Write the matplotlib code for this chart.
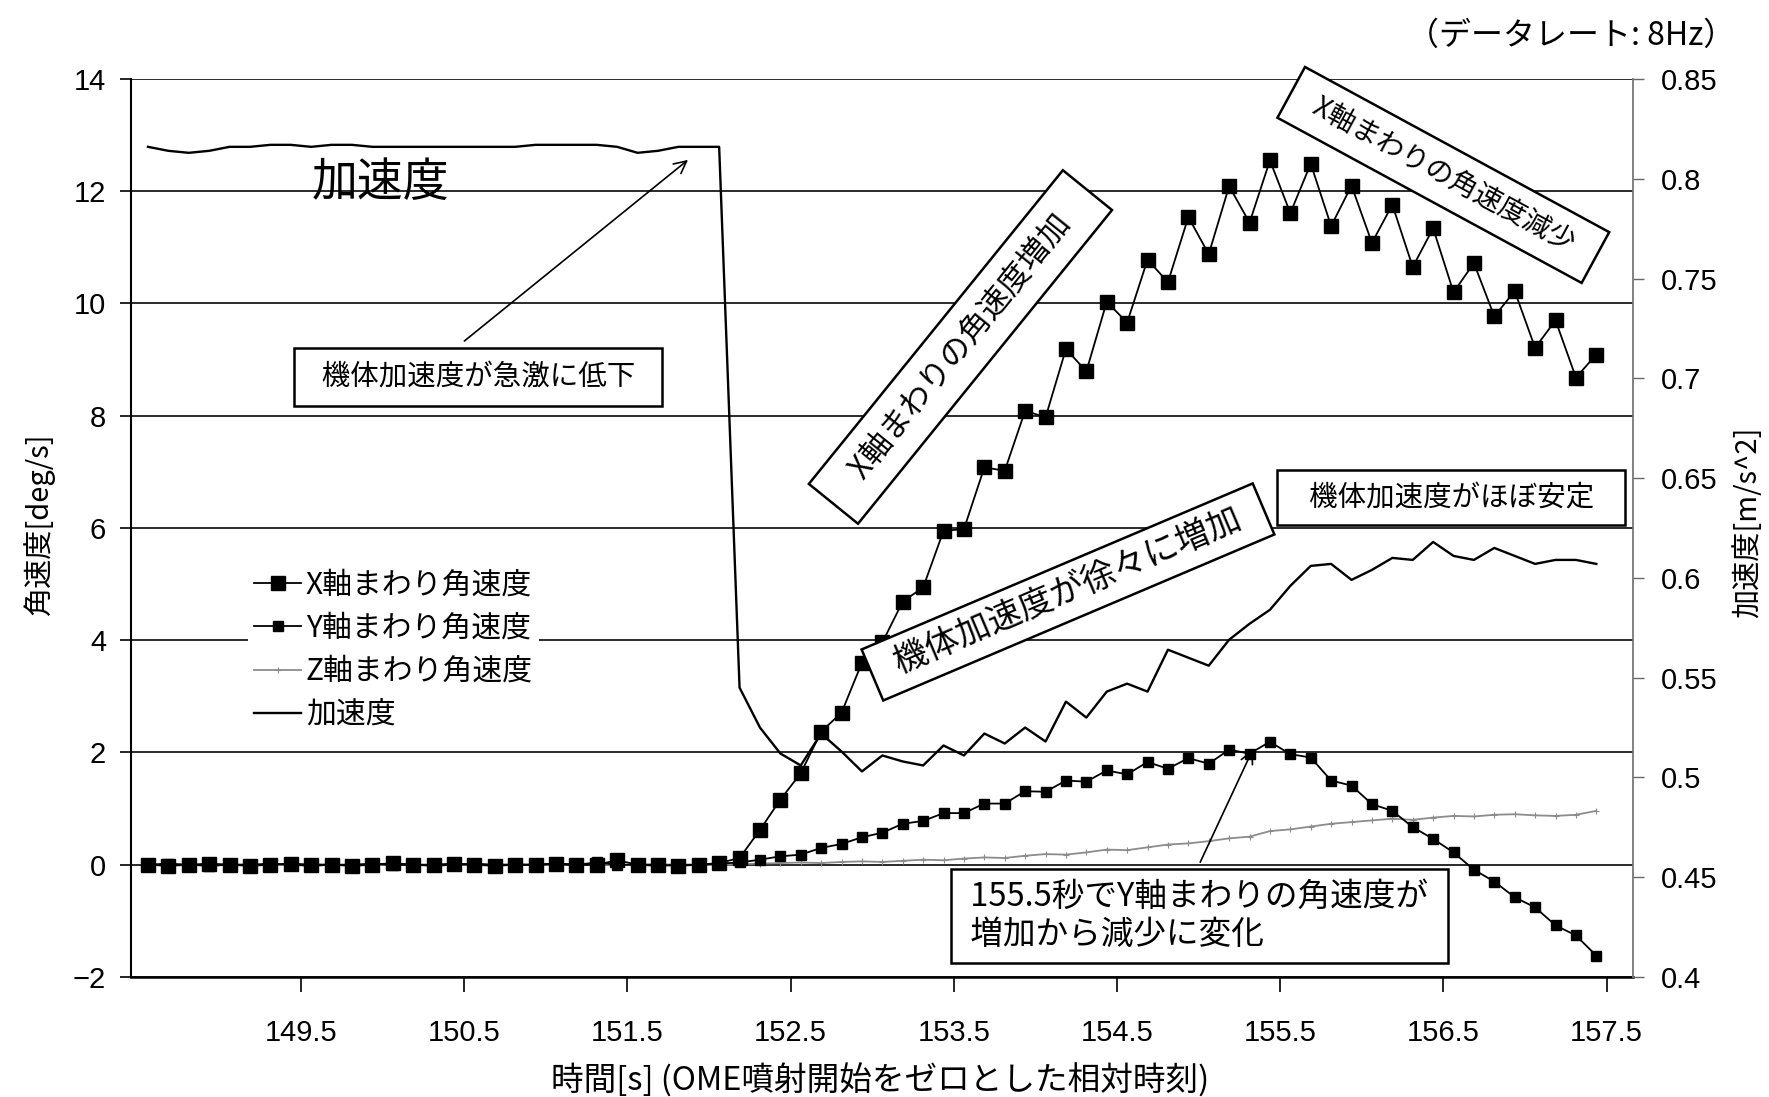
#!/usr/bin/env python3
"""
Angular rates around the X/Y/Z body axes and body acceleration
around the OME burn start (8 Hz telemetry)
"""
import matplotlib.pyplot as plt
import numpy as np

plt.rcParams["font.family"] = ["Noto Sans CJK JP", "DejaVu Sans"]

# Constants
FIG_SIZE = (17.69, 10.97)
DPI = 100
AXES_RECT = [0.0741, 0.1094, 0.8490, 0.8186]
RATE_HZ = 8
T_START = 148.5625
X_LIMITS = (148.459, 157.662)
GRID_COLOR = "#2a2a2a"
Z_COLOR = "#8c8c8c"
NUM_FONT = "Liberation Sans"

# angular rate around X axis [deg/s]
x_rate = [
    0.0, -0.02, 0.0, 0.02, 0.0, -0.02, 0.0, 0.02, 0.0, 0.0,
    -0.02, 0.0, 0.03, 0.0, 0.0, 0.02, 0.0, -0.02, 0.0, 0.0,
    0.02, 0.0, 0.0, 0.08, 0.0, 0.0, -0.02, 0.0, 0.03,
    0.12, 0.62, 1.16, 1.63, 2.37, 2.71, 3.60, 3.96, 4.69, 4.94, 5.95,
    5.98, 7.08, 7.02, 8.09, 7.97, 9.19, 8.79, 10.03, 9.66, 10.78,
    10.38, 11.54, 10.88, 12.09, 11.44, 12.55, 11.61, 12.49, 11.38, 12.10,
    11.08, 11.76, 10.65, 11.34, 10.20, 10.72, 9.77, 10.22, 9.21, 9.70,
    8.68, 9.09,
]

# angular rate around Y axis [deg/s]
y_rate = [
    0.0, 0.02, 0.0, -0.02, 0.0, 0.0, 0.02, 0.0, -0.02, 0.0,
    0.0, 0.02, 0.0, 0.0, -0.02, 0.0, 0.02, 0.0, 0.0, 0.0,
    0.02, 0.0, 0.04, 0.0, 0.0, -0.02, 0.0, 0.0, 0.02, 0.04,
    0.09, 0.15, 0.18, 0.30, 0.37, 0.49, 0.57, 0.73, 0.78, 0.92,
    0.92, 1.09, 1.09, 1.31, 1.30, 1.50, 1.48, 1.68, 1.61, 1.83,
    1.71, 1.90, 1.80, 2.05, 1.98, 2.19, 1.97, 1.91, 1.50, 1.41,
    1.08, 0.96, 0.67, 0.46, 0.22, -0.09, -0.30, -0.58, -0.76, -1.08,
    -1.26, -1.62,
]

# angular rate around Z axis [deg/s]
z_rate = [
    0.0, 0.01, -0.01, 0.0, 0.01, 0.0, -0.01, 0.0, 0.01, 0.0,
    0.0, -0.01, 0.01, 0.0, 0.0, 0.01, -0.01, 0.0, 0.01, 0.0,
    0.0, 0.01, 0.0, -0.01, 0.0, 0.01, 0.0, 0.0, -0.01, 0.01,
    0.02, 0.03, 0.04, 0.03, 0.05, 0.06, 0.05, 0.07, 0.09, 0.08,
    0.11, 0.13, 0.12, 0.16, 0.19, 0.18, 0.22, 0.27, 0.26, 0.31,
    0.36, 0.38, 0.42, 0.47, 0.50, 0.60, 0.63, 0.68, 0.73, 0.76,
    0.79, 0.82, 0.80, 0.84, 0.87, 0.86, 0.89, 0.90, 0.88, 0.87,
    0.89, 0.96,
]

# body acceleration [m/s^2]
accel = [
    0.816, 0.814, 0.813, 0.814, 0.816, 0.816, 0.817, 0.817, 0.816, 0.817,
    0.817, 0.816, 0.816, 0.816, 0.816, 0.816, 0.816, 0.816, 0.816, 0.817,
    0.817, 0.817, 0.817, 0.816, 0.813, 0.814, 0.816, 0.816, 0.816, 0.545,
    0.525, 0.512, 0.506, 0.522, 0.513, 0.503, 0.511, 0.508, 0.506, 0.516,
    0.511, 0.522, 0.517, 0.525, 0.518, 0.538, 0.530, 0.543, 0.547, 0.543,
    0.564, 0.560, 0.556, 0.569, 0.577, 0.584, 0.596, 0.606, 0.607, 0.599,
    0.604, 0.610, 0.609, 0.618, 0.611, 0.609, 0.615, 0.611, 0.607, 0.609,
    0.609, 0.607,
]

x_ticks = [149.5, 150.5, 151.5, 152.5, 153.5, 154.5, 155.5, 156.5, 157.5]
rate_ticks = [-2, 0, 2, 4, 6, 8, 10, 12, 14]
accel_ticks = [0.4, 0.45, 0.5, 0.55, 0.6, 0.65, 0.7, 0.75, 0.8, 0.85]
accel_tick_labels = ["0.4", "0.45", "0.5", "0.55", "0.6", "0.65", "0.7", "0.75", "0.8", "0.85"]

# samples at 8 Hz
time_s = T_START + np.arange(len(x_rate)) / RATE_HZ

fig = plt.figure(figsize=FIG_SIZE, dpi=DPI)
fig.patch.set_facecolor("white")
ax = fig.add_axes(AXES_RECT)
ax2 = ax.twinx()

# angular rate axes
ax.set_xlim(*X_LIMITS)
ax.set_ylim(-2, 14)
ax.set_yticks(rate_ticks)
ax.set_xticks(x_ticks)
ax.set_xticklabels([f"{t:.1f}" for t in x_ticks])
ax.yaxis.grid(True, color=GRID_COLOR, linewidth=1.4)
ax.set_axisbelow(True)
ax.tick_params(axis="y", direction="out", length=8, width=1.2, pad=10,
               labelsize=21, labelfontfamily=NUM_FONT)
ax.tick_params(axis="x", direction="out", length=11, width=1.2, pad=19,
               labelsize=21, labelfontfamily=NUM_FONT)
ax.spines["top"].set_visible(False)
ax.spines["right"].set_visible(False)
ax.spines["left"].set_linewidth(1.5)
ax.spines["bottom"].set_linewidth(1.8)

# acceleration axis
ax2.set_ylim(0.4, 0.85)
ax2.set_yticks(accel_ticks)
ax2.set_yticklabels(accel_tick_labels)
ax2.tick_params(axis="y", direction="out", length=8, width=1.0, pad=12,
                labelsize=21, labelfontfamily=NUM_FONT, color="#666666")
for side in ["top", "left", "bottom"]:
    ax2.spines[side].set_visible(False)
ax2.spines["right"].set_color("#777777")
ax2.spines["right"].set_linewidth(1.3)

(line_z,) = ax.plot(time_s, z_rate, color=Z_COLOR, linewidth=1.3, marker="+",
                    markersize=5, markeredgewidth=0.8, zorder=2,
                    label="Z軸まわり角速度")
(line_y,) = ax.plot(time_s, y_rate, color="black", linewidth=1.3, marker="s",
                    markersize=6.5, zorder=3, label="Y軸まわり角速度")
(line_x,) = ax.plot(time_s, x_rate, color="black", linewidth=1.3, marker="s",
                    markersize=10.5, zorder=4, label="X軸まわり角速度")
(line_a,) = ax2.plot(time_s, accel, color="black", linewidth=1.7, label="加速度")

ax.legend(
    handles=[line_x, line_y, line_z, line_a],
    loc="upper left",
    bbox_to_anchor=(0.068, 0.477),
    frameon=True,
    facecolor="white",
    edgecolor="none",
    framealpha=1.0,
    fontsize=21.5,
    handlelength=1.58,
    handletextpad=0.15,
    labelspacing=0.41,
    borderpad=0.2,
)

# annotation boxes
box = dict(boxstyle="square,pad=0.5", facecolor="white", edgecolor="black", linewidth=1.8)

ax.text(149.985, 12.15, "加速度", fontsize=33, ha="center", va="center", zorder=6)

ax.text(150.585, 8.69, "  機体加速度が急激に低下  ", fontsize=20.5, ha="center",
        va="center", bbox=box, zorder=6)
ax.annotate("", xy=(151.885, 12.59), xytext=(150.488, 9.3),
            arrowprops=dict(arrowstyle="->", color="black", linewidth=1.2,
                            mutation_scale=22), zorder=6)

ax.text(153.541, 9.225, "   X軸まわりの角速度増加   ", fontsize=22.5, rotation=51,
        rotation_mode="anchor", ha="center", va="center", bbox=box, zorder=6)

ax.text(156.5, 12.29, "  X軸まわりの角速度減少  ", fontsize=20, rotation=-28.5,
        rotation_mode="anchor", ha="center", va="center", bbox=box, zorder=6)

ax.text(154.2, 4.86, "  機体加速度が徐々に増加  ", fontsize=24.5, rotation=23,
        rotation_mode="anchor", ha="center", va="center",
        bbox=dict(box, boxstyle="square,pad=0.3"), zorder=6)

ax.text(156.548, 6.535, "   機体加速度がほぼ安定   ", fontsize=20.5, ha="center",
        va="center", bbox=dict(box, boxstyle="square,pad=0.44"), zorder=6)

ax.text(153.558, -0.913, " 155.5秒でY軸まわりの角速度が \n 増加から減少に変化", fontsize=23.5,
        ha="left", va="center", linespacing=1.25,
        bbox=dict(box, boxstyle="square,pad=0.37"), zorder=6)
ax.annotate("", xy=(155.34, 2.1), xytext=(155.003, 0.0),
            arrowprops=dict(arrowstyle="->", color="black", linewidth=1.2,
                            mutation_scale=22), zorder=6)

# axis titles
fig.text(39.5 / 1769, 1 - 525 / 1097, "角速度[deg/s]", rotation=90, fontsize=21,
         ha="center", va="center")
fig.text(1748 / 1769, 1 - 522 / 1097, "加速度[m/s^2]", rotation=90, fontsize=21,
         ha="center", va="center")
fig.text(880 / 1769, 1 - 1081 / 1097, "時間[s] (OME噴射開始をゼロとした相対時刻)",
         fontsize=23.5, ha="center", va="center")
fig.text(1571 / 1769, 1 - 36 / 1097, "（データレート: 8Hz）", fontsize=23,
         ha="center", va="center")

fig.savefig("out.png", dpi=DPI, facecolor="white")
